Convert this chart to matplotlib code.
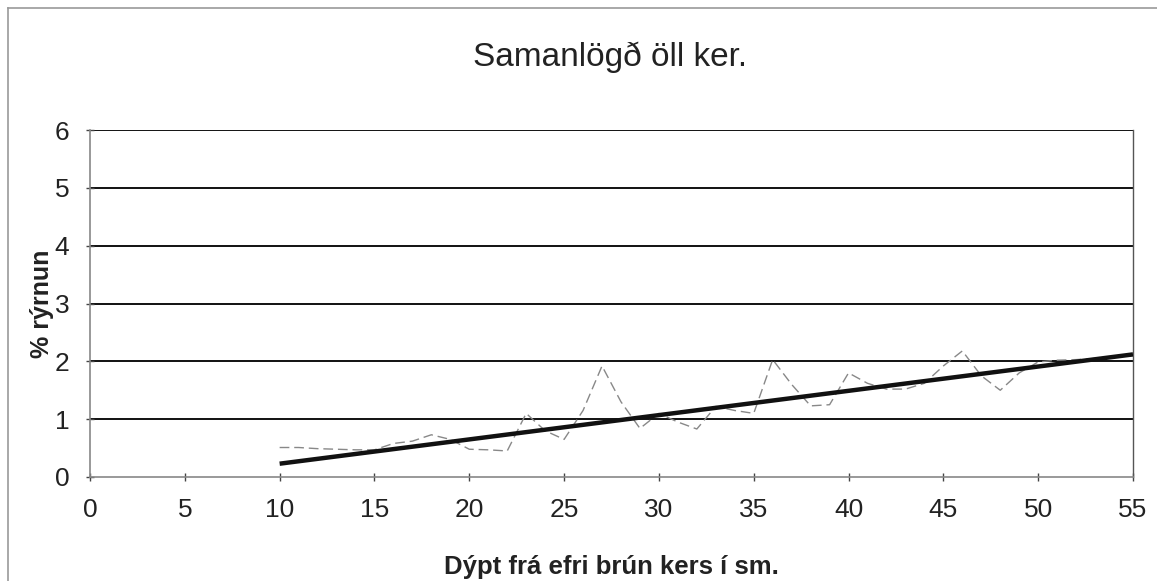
import matplotlib
matplotlib.use("Agg")
import matplotlib.pyplot as plt
from matplotlib.lines import Line2D

plt.rcParams['font.family'] = ['Liberation Sans', 'DejaVu Sans']

# Data
depth = [10, 11, 12, 13, 14, 15, 16, 17, 18, 19, 20, 21, 22, 23, 24, 25, 26, 27, 28, 29,
         30, 31, 32, 33, 34, 35, 36, 37, 38, 39, 40, 41, 42, 43, 44, 45, 46, 47, 48, 49,
         50, 51, 52, 53, 54, 55]
shrink = [0.51, 0.51, 0.49, 0.48, 0.47, 0.47, 0.58, 0.62, 0.73, 0.65, 0.48, 0.47, 0.45, 1.10,
          0.80, 0.65, 1.15, 1.92, 1.30, 0.84, 1.10, 0.95, 0.83, 1.22, 1.15, 1.10, 2.03, 1.60,
          1.23, 1.25, 1.80, 1.62, 1.52, 1.52, 1.62, 1.92, 2.18, 1.75, 1.50, 1.80, 1.99, 2.02,
          2.03, 2.05, 2.07, 2.10]
trend_x = [10, 55]
trend_y = [0.23, 2.12]

xticks = [0, 5, 10, 15, 20, 25, 30, 35, 40, 45, 50, 55]
yticks = [0, 1, 2, 3, 4, 5, 6]

title = "Samanlögð öll ker."
xlabel = "Dýpt frá efri brún kers í sm."
ylabel = "% rýrnun"

fig = plt.figure(figsize=(11.57, 5.81), dpi=100)
ax = fig.add_axes([90/1157, 1 - 477/581, (1133 - 90)/1157, (477 - 130)/581])

for yv in yticks[1:]:
    ax.axhline(yv, color='#111111', lw=1.4, zorder=1)

ax.plot(depth, shrink, color='#888888', lw=1.0, dashes=(7, 3.5), zorder=2)
ax.plot(trend_x, trend_y, color='#111111', lw=3.2, solid_capstyle='butt', zorder=3)

ax.set_xlim(0, 55)
ax.set_ylim(0, 6)
ax.set_xticks(xticks)
ax.set_yticks(yticks)
ax.tick_params(axis='both', labelsize=19, colors='#444444', labelcolor='#222222',
               direction='inout', length=6, width=1)
ax.tick_params(axis='x', pad=12)
ax.tick_params(axis='y', pad=12)

for s in ['left', 'bottom']:
    ax.spines[s].set_color('#888888')
    ax.spines[s].set_linewidth(1.2)
ax.spines['top'].set_visible(False)
ax.spines['right'].set_color('#555555')
ax.spines['right'].set_linewidth(1.0)

ax.set_xlabel(xlabel, fontsize=18.5, fontweight='bold', color='#222222', labelpad=24)
ax.set_ylabel(ylabel, fontsize=18, fontweight='bold', color='#222222', labelpad=0)
fig.text(610/1157, 1 - 57/581, title, fontsize=24, ha='center', va='center', color='#222222')

# outer frame
fig.add_artist(Line2D([8/1157, 1.0], [1 - 8/581, 1 - 8/581], color='#999999', lw=1.2,
                      transform=fig.transFigure))
fig.add_artist(Line2D([8/1157, 8/1157], [0.0, 1 - 8/581], color='#999999', lw=1.2,
                      transform=fig.transFigure))

fig.savefig("out.png", dpi=100)
